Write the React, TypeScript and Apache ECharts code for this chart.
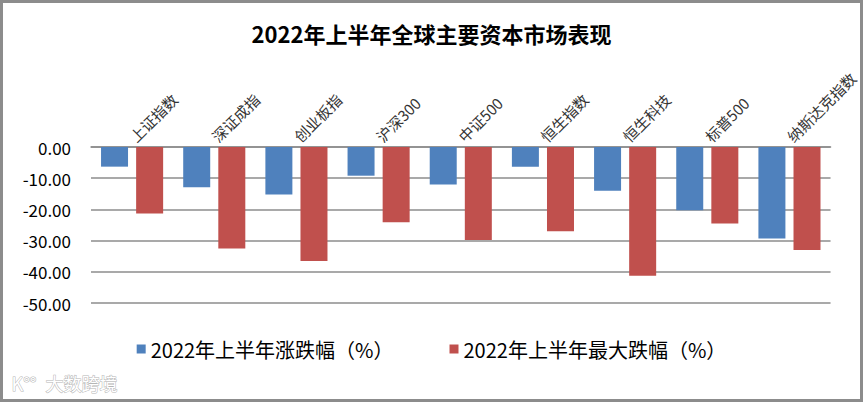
import React, { useEffect, useRef } from "react";
import * as echarts from "echarts";

const categories = ["上证指数", "深证成指", "创业板指", "沪深300", "中证500", "恒生指数", "恒生科技", "标普500", "纳斯达克指数"];
const changeValues = [-6.3, -12.9, -15.2, -9.2, -12.0, -6.3, -14.0, -20.3, -29.3];
const maxDropValues = [-21.3, -32.5, -36.5, -24.1, -29.8, -27.0, -41.3, -24.5, -33.0];
const seriesNames = ["2022年上半年涨跌幅（%）", "2022年上半年最大跌幅（%）"];
const titleText = "2022年上半年全球主要资本市场表现";
const watermarkText = "大数跨境";

const FONT = "'Noto Sans CJK SC', 'Noto Sans', sans-serif";

export default function App() {
  const ref = useRef<HTMLDivElement>(null);
  useEffect(() => {
    document.body.style.margin = "0";
    if (!ref.current) return;
    const chart = echarts.init(ref.current, null, { renderer: "svg" });
    chart.setOption({
      animation: false,
      backgroundColor: "#ffffff",
      title: {
        text: titleText,
        left: "center",
        top: 14,
        textStyle: { fontFamily: FONT, fontSize: 22, fontWeight: "bold", color: "#000" },
      },
      legend: {
        top: 331,
        left: "center",
        icon: "rect",
        itemWidth: 9,
        itemHeight: 9,
        itemGap: 56,
        textStyle: { fontFamily: FONT, fontSize: 20, color: "#000" },
        data: seriesNames,
      },
      grid: { left: 88, right: 20, top: 144, bottom: 96 },
      xAxis: {
        type: "category",
        position: "top",
        data: categories,
        axisLine: { show: true, lineStyle: { color: "#8c8c8c", width: 1.5 } },
        axisTick: { show: false },
        axisLabel: { rotate: 45, margin: 8, fontFamily: FONT, fontSize: 15, color: "#333" },
      },
      yAxis: {
        type: "value",
        min: -50,
        max: 0,
        interval: 10,
        axisLine: { show: false },
        axisTick: { show: false },
        axisLabel: {
          fontFamily: FONT,
          fontSize: 17,
          color: "#000",
          margin: 20,
          formatter: (v: number) => v.toFixed(2),
        },
        splitLine: { lineStyle: { color: "#8c8c8c", width: 1.5 } },
      },
      series: [
        {
          name: seriesNames[0],
          type: "bar",
          data: changeValues,
          barWidth: 27,
          barGap: "30%",
          itemStyle: { color: "#4F81BD" },
        },
        {
          name: seriesNames[1],
          type: "bar",
          data: maxDropValues,
          barWidth: 27,
          barGap: "30%",
          itemStyle: { color: "#C0504D" },
        },
      ],
      graphic: [
        {
          type: "text",
          left: 8,
          top: 370,
          style: {
            text: "K°°",
            fontFamily: FONT,
            fontSize: 18,
            fill: "#ffffff",
            stroke: "#b5b5b5",
            lineWidth: 1,
          },
        },
        {
          type: "text",
          left: 42,
          top: 370,
          style: {
            text: watermarkText,
            fontFamily: FONT,
            fontSize: 18,
            fill: "#ffffff",
            stroke: "#b5b5b5",
            lineWidth: 1,
          },
        },
      ],
    });
    return () => chart.dispose();
  }, []);
  return (
    <div
      style={{
        width: 863,
        height: 402,
        boxSizing: "border-box",
        border: "3px solid #8c8c8c",
        background: "#fff",
      }}
    >
      <div ref={ref} style={{ width: 857, height: 396 }} />
    </div>
  );
}
